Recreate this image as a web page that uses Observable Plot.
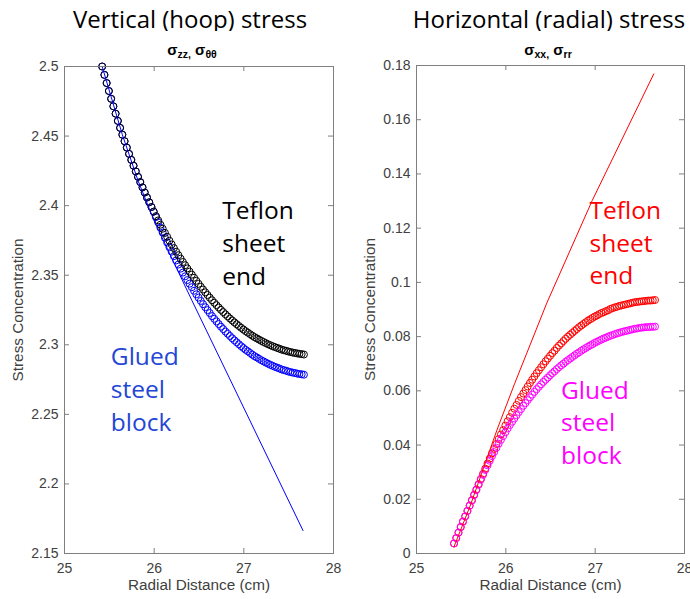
<!DOCTYPE html>
<html><head><meta charset="utf-8">
<script src="https://cdn.jsdelivr.net/npm/d3@7"></script>
<script src="https://cdn.jsdelivr.net/npm/@observablehq/plot@0.6"></script>
<style>
body{margin:0;background:#fff;}
#wrap{position:relative;width:690px;height:599px;overflow:hidden;background:#fff;}
#wrap svg{position:absolute;top:0;}
.title{position:absolute;top:0;height:31px;overflow:hidden;white-space:nowrap;}
.title span{display:block;position:relative;top:7px;line-height:24px;font-family:"Open Sans",sans-serif;font-size:24px;color:#000;text-align:center;}
.sub{position:absolute;top:42px;width:200px;text-align:center;font-family:"Liberation Sans",Arial,sans-serif;font-weight:bold;font-size:15px;line-height:15px;color:#000;white-space:nowrap;}
.sub i{font-style:normal;font-size:10.5px;position:relative;top:3px;}
</style></head><body><div id="wrap"></div>
<script>
const xTicks = [25, 26, 27, 28];
const xTickLabels = ["25", "26", "27", "28"];
const hoopTicks = [2.15, 2.2, 2.25, 2.3, 2.35, 2.4, 2.45, 2.5];
const hoopTickLabels = ["2.15", "2.2", "2.25", "2.3", "2.35", "2.4", "2.45", "2.5"];
const radialTicks = [0, 0.02, 0.04, 0.06, 0.08, 0.1, 0.12, 0.14, 0.16, 0.18];
const radialTickLabels = ["0", "0.02", "0.04", "0.06", "0.08", "0.1", "0.12", "0.14", "0.16", "0.18"];

const radialDistance = [
  25.42, 25.445, 25.47, 25.495, 25.52, 25.545, 25.57, 25.595, 25.62, 25.645,
  25.67, 25.695, 25.72, 25.745, 25.77, 25.795, 25.82, 25.845, 25.87, 25.895,
  25.92, 25.945, 25.97, 25.995, 26.02, 26.045, 26.07, 26.095, 26.12, 26.145,
  26.17, 26.195, 26.22, 26.245, 26.27, 26.295, 26.32, 26.345, 26.37, 26.395,
  26.42, 26.445, 26.47, 26.495, 26.52, 26.545, 26.57, 26.595, 26.62, 26.645,
  26.67, 26.695, 26.72, 26.745, 26.77, 26.795, 26.82, 26.845, 26.87, 26.895,
  26.92, 26.945, 26.97, 26.995, 27.02, 27.045, 27.07, 27.095, 27.12, 27.145,
  27.17, 27.195, 27.22, 27.245, 27.27, 27.295, 27.32, 27.345, 27.37, 27.395,
  27.42, 27.445, 27.47, 27.495, 27.52, 27.545, 27.57, 27.595, 27.62, 27.645,
  27.67];

const hoopTeflon = [
  2.5000, 2.4940, 2.4881, 2.4824, 2.4768, 2.4714, 2.4661, 2.4609, 2.4559, 2.4510,
  2.4463, 2.4417, 2.4372, 2.4329, 2.4287, 2.4246, 2.4207, 2.4169, 2.4131, 2.4094,
  2.4058, 2.4024, 2.3990, 2.3957, 2.3925, 2.3894, 2.3863, 2.3834, 2.3804, 2.3776,
  2.3748, 2.3721, 2.3695, 2.3669, 2.3644, 2.3619, 2.3595, 2.3572, 2.3549, 2.3526,
  2.3504, 2.3482, 2.3460, 2.3438, 2.3417, 2.3397, 2.3377, 2.3358, 2.3339, 2.3320,
  2.3302, 2.3285, 2.3268, 2.3251, 2.3235, 2.3219, 2.3204, 2.3189, 2.3175, 2.3161,
  2.3148, 2.3135, 2.3122, 2.3110, 2.3098, 2.3087, 2.3076, 2.3065, 2.3055, 2.3046,
  2.3037, 2.3028, 2.3020, 2.3012, 2.3004, 2.2997, 2.2990, 2.2984, 2.2978, 2.2972,
  2.2966, 2.2961, 2.2957, 2.2952, 2.2948, 2.2944, 2.2941, 2.2938, 2.2935, 2.2933,
  2.2930];

const hoopGlued = [
  2.5000, 2.4940, 2.4881, 2.4824, 2.4768, 2.4714, 2.4661, 2.4609, 2.4559, 2.4510,
  2.4463, 2.4417, 2.4372, 2.4329, 2.4287, 2.4246, 2.4207, 2.4169, 2.4131, 2.4094,
  2.4058, 2.4024, 2.3990, 2.3957, 2.3918, 2.3880, 2.3841, 2.3806, 2.3769, 2.3735,
  2.3701, 2.3669, 2.3637, 2.3606, 2.3577, 2.3547, 2.3519, 2.3492, 2.3465, 2.3439,
  2.3414, 2.3388, 2.3363, 2.3339, 2.3315, 2.3292, 2.3270, 2.3249, 2.3228, 2.3206,
  2.3187, 2.3168, 2.3149, 2.3130, 2.3113, 2.3095, 2.3079, 2.3063, 2.3047, 2.3032,
  2.3018, 2.3004, 2.2990, 2.2977, 2.2964, 2.2953, 2.2941, 2.2929, 2.2918, 2.2909,
  2.2899, 2.2889, 2.2881, 2.2872, 2.2864, 2.2856, 2.2849, 2.2842, 2.2836, 2.2830,
  2.2823, 2.2818, 2.2814, 2.2808, 2.2804, 2.2800, 2.2797, 2.2793, 2.2790, 2.2788,
  2.2785];

const hoopLineX = [25.42, 25.645, 25.82, 26.0, 26.42, 27.66];
const hoopLineY = [2.5, 2.451, 2.418, 2.389, 2.332, 2.1665];

const radialTeflon = [
  0.0037, 0.0057, 0.0077, 0.0098, 0.0118, 0.0137, 0.0157, 0.0177, 0.0197, 0.0217,
  0.0236, 0.0256, 0.0275, 0.0294, 0.0313, 0.0332, 0.0350, 0.0369, 0.0386, 0.0404,
  0.0422, 0.0439, 0.0455, 0.0472, 0.0488, 0.0503, 0.0519, 0.0534, 0.0548, 0.0563,
  0.0577, 0.0590, 0.0603, 0.0616, 0.0629, 0.0641, 0.0653, 0.0665, 0.0676, 0.0687,
  0.0698, 0.0709, 0.0719, 0.0729, 0.0739, 0.0748, 0.0758, 0.0767, 0.0775, 0.0784,
  0.0792, 0.0800, 0.0807, 0.0814, 0.0821, 0.0828, 0.0835, 0.0841, 0.0847, 0.0853,
  0.0859, 0.0864, 0.0869, 0.0874, 0.0878, 0.0883, 0.0887, 0.0890, 0.0894, 0.0897,
  0.0902, 0.0905, 0.0908, 0.0910, 0.0913, 0.0915, 0.0917, 0.0919, 0.0921, 0.0923,
  0.0925, 0.0927, 0.0928, 0.0929, 0.0930, 0.0931, 0.0932, 0.0933, 0.0933, 0.0934,
  0.0935];

const radialGlued = [
  0.0037, 0.0057, 0.0077, 0.0097, 0.0117, 0.0137, 0.0157, 0.0176, 0.0195, 0.0215,
  0.0234, 0.0253, 0.0272, 0.0290, 0.0308, 0.0325, 0.0342, 0.0359, 0.0374, 0.0390,
  0.0405, 0.0419, 0.0433, 0.0447, 0.0461, 0.0474, 0.0486, 0.0498, 0.0510, 0.0522,
  0.0533, 0.0545, 0.0555, 0.0566, 0.0576, 0.0586, 0.0596, 0.0606, 0.0615, 0.0624,
  0.0633, 0.0641, 0.0649, 0.0657, 0.0665, 0.0672, 0.0680, 0.0687, 0.0694, 0.0700,
  0.0707, 0.0713, 0.0719, 0.0725, 0.0731, 0.0737, 0.0742, 0.0748, 0.0753, 0.0758,
  0.0763, 0.0768, 0.0772, 0.0777, 0.0781, 0.0785, 0.0789, 0.0793, 0.0796, 0.0800,
  0.0803, 0.0806, 0.0809, 0.0812, 0.0814, 0.0817, 0.0819, 0.0821, 0.0823, 0.0825,
  0.0827, 0.0829, 0.0830, 0.0832, 0.0833, 0.0834, 0.0835, 0.0835, 0.0836, 0.0836,
  0.0837];

const radialLineX = [25.42, 25.6, 25.75, 25.9, 26.1, 26.46, 26.967, 27.656];
const radialLineY = [0.0025, 0.0175, 0.0315, 0.0455, 0.0628, 0.0925, 0.1302, 0.1769];

const pts = (xs, ys) => xs.map((x, i) => ({x, y: ys[i]}));
const fmt = (ticks, labels) => d => labels[ticks.findIndex(t => Math.abs(t - d) < 1e-9)];
const AX = "#7f7f7f";
const TXT = "#404040";
const ANN = {fontFamily: '"Open Sans", sans-serif', fontSize: 24.5, textAnchor: "start", lineAnchor: "top", lineHeight: 1.33};

function panel({left, width, ml, mr, mt, mb, yDomain, yTicks, yLabels, marks}) {
  const H = 599;
  const fw = width - ml - mr, fh = H - mt - mb;
  const svg = Plot.plot({
    width, height: H, marginLeft: ml, marginRight: mr, marginTop: mt, marginBottom: mb,
    x: {domain: [25, 28]},
    y: {domain: yDomain},
    style: {fontFamily: '"Liberation Sans", Arial, sans-serif', fontSize: "14px", color: TXT, background: "transparent", overflow: "visible"},
    marks: [
      ...marks,
      Plot.frame({stroke: AX}),
      Plot.tickX(xTicks, {x: d => d, insetTop: fh - 5, stroke: AX}),
      Plot.tickX(xTicks, {x: d => d, insetBottom: fh - 5, stroke: AX}),
      Plot.tickY(yTicks, {y: d => d, insetRight: fw - 5, stroke: AX}),
      Plot.tickY(yTicks, {y: d => d, insetLeft: fw - 5, stroke: AX}),
      Plot.axisX(xTicks, {tickSize: 0, tickPadding: 10, tickFormat: fmt(xTicks, xTickLabels), label: null}),
      Plot.axisY(yTicks, {tickSize: 0, tickPadding: 6, tickFormat: fmt(yTicks, yLabels), label: null}),
      Plot.text(["Radial Distance (cm)"], {frameAnchor: "bottom", dy: 36, fontSize: 15.3, fill: TXT}),
      Plot.text(["Stress Concentration"], {frameAnchor: "left", textAnchor: "middle", dx: -46, rotate: -90, fontSize: 15.3, fill: TXT})
    ]
  });
  svg.style.left = left + "px";
  return svg;
}

const wrap = document.getElementById("wrap");

wrap.appendChild(panel({
  left: 0, width: 345, ml: 64, mr: 12, mt: 66, mb: 46,
  yDomain: [2.15, 2.5], yTicks: hoopTicks, yLabels: hoopTickLabels,
  marks: [
    Plot.dot(pts(radialDistance, hoopGlued), {x: "x", y: "y", r: 3.5, stroke: "#0000ff", strokeWidth: 1}),
    Plot.dot(pts(radialDistance, hoopTeflon), {x: "x", y: "y", r: 3.5, stroke: "#000000", strokeWidth: 1}),
    Plot.line(pts(hoopLineX, hoopLineY), {x: "x", y: "y", stroke: "#0000ff", strokeWidth: 1}),
    Plot.text(["Teflon\nsheet\nend"], {x: 26.76, y: 2.4067, fill: "#000000", ...ANN}),
    Plot.text(["Glued\nsteel\nblock"], {x: 25.517, y: 2.3018, fill: "#2446d4", ...ANN})
  ]
}));

wrap.appendChild(panel({
  left: 345, width: 345, ml: 71, mr: 6, mt: 65, mb: 46,
  yDomain: [0, 0.18], yTicks: radialTicks, yLabels: radialTickLabels,
  marks: [
    Plot.dot(pts(radialDistance, radialTeflon), {x: "x", y: "y", r: 3.5, stroke: "#ff0000", strokeWidth: 1}),
    Plot.dot(pts(radialDistance, radialGlued), {x: "x", y: "y", r: 3.5, stroke: "#ff00ff", strokeWidth: 1}),
    Plot.line(pts(radialLineX, radialLineY), {x: "x", y: "y", stroke: "#ff0000", strokeWidth: 1}),
    Plot.text(["Teflon\nsheet\nend"], {x: 26.937, y: 0.1318, fill: "#ff0000", ...ANN}),
    Plot.text(["Glued\nsteel\nblock"], {x: 26.618, y: 0.0656, fill: "#ff00ff", ...ANN})
  ]
}));

const html = `
<div class="title" style="left:0;width:380px"><span>Vertical (hoop) stress</span></div>
<div class="title" style="left:349px;width:400px"><span>Horizontal (radial) stress</span></div>
<div class="sub" style="left:92px">σ<i>zz,</i> σ<i>θθ</i></div>
<div class="sub" style="left:448px">σ<i>xx,</i> σ<i>rr</i></div>`;
wrap.insertAdjacentHTML("beforeend", html);
</script></body></html>
